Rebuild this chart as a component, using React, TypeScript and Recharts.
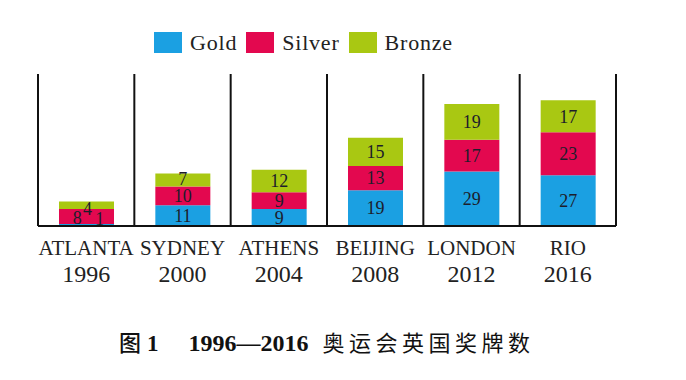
import React from 'react';
import { BarChart, Bar, XAxis, YAxis, CartesianGrid, Legend, LabelList } from 'recharts';

// Great Britain's Olympic medal counts, 1996–2016
const cities = ['ATLANTA', 'SYDNEY', 'ATHENS', 'BEIJING', 'LONDON', 'RIO'];
const years = ['1996', '2000', '2004', '2008', '2012', '2016'];
const gold = [1, 11, 9, 19, 29, 27];
const silver = [8, 10, 9, 13, 17, 23];
const bronze = [4, 7, 12, 15, 19, 17];

const seriesNames = ['Gold', 'Silver', 'Bronze'];
const seriesKeys = ['gold', 'silver', 'bronze'];
const seriesColors = ['#1ba0e2', '#e3084f', '#a9c812'];

const data = cities.map((city, i) => ({
  city,
  year: years[i],
  gold: gold[i],
  silver: silver[i],
  bronze: bronze[i],
}));

const SERIF = '"Liberation Serif", "DejaVu Serif", serif';
const LABEL_COLOR = '#1d1d2b';

const CityTick = (props: any) => {
  const { x, y, payload, index } = props;
  return (
    <g>
      <text x={x} y={y + 21} textAnchor="middle" fontFamily={SERIF} fontSize={21} fill="#222">
        {payload.value}
      </text>
      <text x={x} y={y + 48} textAnchor="middle" fontFamily={SERIF} fontSize={24} fill="#222">
        {years[index]}
      </text>
    </g>
  );
};

// Segment value label; in a very short stack the numbers are nudged apart,
// and a thin top segment carries its number near its upper edge
const makeLabel = (series: number) => (props: any) => {
  const { x, y, width, height, value, index } = props;
  const total = gold[index] + silver[index] + bronze[index];
  let cx = x + width / 2;
  let cy = y + height / 2;
  if (total < 20) {
    if (series === 0) {
      cx = x + width * 0.74;
      cy = y + height / 2 - 6;
    } else if (series === 1) {
      cx = x + width * 0.33;
      cy = y + height / 2 + 1;
    } else {
      cx = x + width * 0.52;
      cy = y + height / 2 + 3;
    }
  } else if (height < 15) {
    cy = y + height / 2 - 1;
  }
  return (
    <text
      x={cx}
      y={cy}
      dy="0.35em"
      textAnchor="middle"
      fontFamily={SERIF}
      fontSize={18}
      fill={LABEL_COLOR}
    >
      {value}
    </text>
  );
};

const LegendContent = () => (
  <div style={{ display: 'flex', alignItems: 'center', fontFamily: SERIF, whiteSpace: 'nowrap', height: 21 }}>
    {seriesNames.map((name, i) => (
      <div key={name} style={{ display: 'flex', alignItems: 'center', marginRight: 9 }}>
        <div style={{ width: 28, height: 21, background: seriesColors[i], marginRight: 8 }} />
        <span style={{ fontSize: 22, letterSpacing: 0.8, color: '#222', lineHeight: '21px' }}>{name}</span>
      </div>
    ))}
  </div>
);

export default function App() {
  return (
    <div style={{ position: 'absolute', left: 0, top: 0, width: 686, height: 380, background: '#fff' }}>
      <BarChart
        width={686}
        height={300}
        data={data}
        margin={{ top: 53, right: 70, left: 38, bottom: 14 }}
        barSize={55}
      >
        <CartesianGrid
          horizontal={false}
          stroke="#111"
          strokeWidth={2}
          verticalCoordinatesGenerator={({ offset }: any) =>
            cities.map((_, i) => offset.left + (i * offset.width) / cities.length).concat([offset.left + offset.width])
          }
        />
        <XAxis
          dataKey="city"
          height={60}
          axisLine={{ stroke: '#111', strokeWidth: 2 }}
          tickLine={false}
          interval={0}
          tick={<CityTick />}
        />
        <YAxis hide type="number" domain={[0, 81]} allowDataOverflow />
        <Legend
          verticalAlign="top"
          content={<LegendContent />}
          wrapperStyle={{ top: 32, left: 154, width: 'auto', height: 21 }}
        />
        {seriesKeys.map((key, i) => (
          <Bar key={key} dataKey={key} name={seriesNames[i]} stackId="medals" fill={seriesColors[i]} isAnimationActive={false}>
            <LabelList dataKey={key} content={makeLabel(i)} />
          </Bar>
        ))}
      </BarChart>
      <div
        style={{
          position: 'absolute',
          top: 325,
          left: 119,
          whiteSpace: 'nowrap',
          display: 'flex',
          alignItems: 'baseline',
          color: '#111',
        }}
      >
        <span style={{ fontFamily: '"Noto Sans CJK SC", sans-serif', fontSize: 22, fontWeight: 500 }}>图</span>
        <span style={{ fontFamily: SERIF, fontSize: 23, fontWeight: 700, marginLeft: 6 }}>1</span>
        <span style={{ fontFamily: SERIF, fontSize: 24, fontWeight: 700, marginLeft: 30 }}>1996—2016</span>
        <span
          style={{
            fontFamily: '"Noto Sans CJK SC", sans-serif',
            fontSize: 22,
            fontWeight: 400,
            letterSpacing: 4.5,
            marginLeft: 14,
          }}
        >
          奥运会英国奖牌数
        </span>
      </div>
    </div>
  );
}
